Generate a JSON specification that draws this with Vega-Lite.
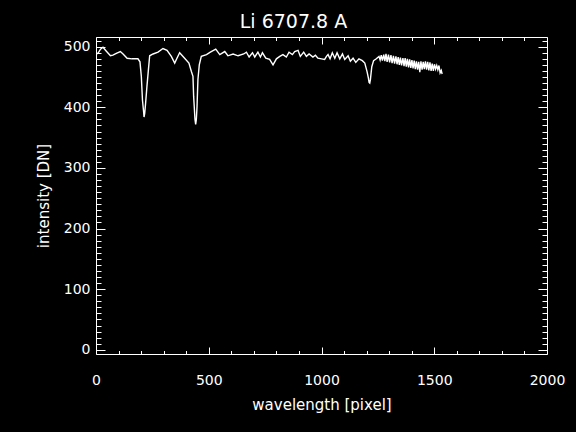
{
  "$schema": "https://vega.github.io/schema/vega-lite/v6.json",
  "width": 451,
  "height": 317,
  "autosize": "none",
  "padding": {"left": 96, "top": 37, "right": 29, "bottom": 78},
  "background": "black",
  "title": {"text": "Li 6707.8 A", "fontSize": 19, "color": "white", "font": "DejaVu Sans", "fontWeight": "normal", "anchor": "middle", "frame": "group", "dx": -28, "baseline": "alphabetic", "offset": -10},
  "config": {
    "view": {"stroke": "white", "strokeWidth": 1},
    "axis": {"grid": false, "domain": false, "tickColor": "white", "tickWidth": 1, "labelColor": "white", "titleColor": "white", "labelFont": "DejaVu Sans", "titleFont": "DejaVu Sans", "labelFontSize": 14, "titleFontSize": 15, "titleFontWeight": "normal", "labelFlush": false, "labelOverlap": false, "labelBound": false}
  },
  "data": {"values": [
    {"x": 0, "y": 487}, {"x": 10, "y": 490}, {"x": 20, "y": 496}, {"x": 31, "y": 499}, {"x": 45, "y": 493}, {"x": 64, "y": 485}, {"x": 75, "y": 486}, {"x": 90, "y": 489}, {"x": 108, "y": 492}, {"x": 120, "y": 488}, {"x": 138, "y": 481}, {"x": 160, "y": 480}, {"x": 186, "y": 480}, {"x": 195, "y": 475}, {"x": 201, "y": 451}, {"x": 206, "y": 412}, {"x": 211, "y": 393}, {"x": 213, "y": 384}, {"x": 216, "y": 390}, {"x": 220, "y": 407}, {"x": 226, "y": 435}, {"x": 231, "y": 456}, {"x": 238, "y": 485}, {"x": 253, "y": 488}, {"x": 275, "y": 491}, {"x": 297, "y": 497}, {"x": 315, "y": 494}, {"x": 334, "y": 484}, {"x": 349, "y": 473}, {"x": 359, "y": 481}, {"x": 371, "y": 490}, {"x": 393, "y": 481}, {"x": 412, "y": 473}, {"x": 423, "y": 459}, {"x": 430, "y": 451}, {"x": 433, "y": 418}, {"x": 439, "y": 380}, {"x": 442, "y": 372}, {"x": 445, "y": 380}, {"x": 448, "y": 401}, {"x": 452, "y": 446}, {"x": 458, "y": 470}, {"x": 467, "y": 484}, {"x": 490, "y": 487}, {"x": 507, "y": 491}, {"x": 531, "y": 496}, {"x": 549, "y": 487}, {"x": 571, "y": 492}, {"x": 585, "y": 485}, {"x": 608, "y": 488}, {"x": 630, "y": 485}, {"x": 655, "y": 488}, {"x": 667, "y": 491}, {"x": 679, "y": 483}, {"x": 694, "y": 490}, {"x": 704, "y": 483}, {"x": 718, "y": 491}, {"x": 729, "y": 483}, {"x": 738, "y": 490}, {"x": 753, "y": 481}, {"x": 770, "y": 479}, {"x": 785, "y": 470}, {"x": 800, "y": 480}, {"x": 815, "y": 484}, {"x": 829, "y": 487}, {"x": 844, "y": 483}, {"x": 856, "y": 491}, {"x": 871, "y": 487}, {"x": 881, "y": 492}, {"x": 896, "y": 494}, {"x": 906, "y": 484}, {"x": 921, "y": 491}, {"x": 933, "y": 484}, {"x": 945, "y": 488}, {"x": 962, "y": 483}, {"x": 973, "y": 486}, {"x": 984, "y": 481}, {"x": 1000, "y": 480}, {"x": 1014, "y": 479}, {"x": 1022, "y": 484}, {"x": 1029, "y": 487}, {"x": 1038, "y": 480}, {"x": 1048, "y": 490}, {"x": 1059, "y": 481}, {"x": 1069, "y": 490}, {"x": 1081, "y": 480}, {"x": 1093, "y": 488}, {"x": 1103, "y": 479}, {"x": 1118, "y": 485}, {"x": 1128, "y": 476}, {"x": 1140, "y": 481}, {"x": 1152, "y": 474}, {"x": 1166, "y": 480}, {"x": 1181, "y": 477}, {"x": 1192, "y": 473}, {"x": 1202, "y": 459}, {"x": 1208, "y": 448}, {"x": 1211, "y": 441}, {"x": 1214, "y": 440}, {"x": 1217, "y": 446}, {"x": 1223, "y": 467}, {"x": 1231, "y": 477}, {"x": 1243, "y": 480}, {"x": 1255, "y": 484},
    {"x": 1260, "y": 478}, {"x": 1265, "y": 486}, {"x": 1270, "y": 477}, {"x": 1276, "y": 487}, {"x": 1281, "y": 476}, {"x": 1286, "y": 488}, {"x": 1291, "y": 475}, {"x": 1297, "y": 487}, {"x": 1302, "y": 474}, {"x": 1308, "y": 486}, {"x": 1313, "y": 473}, {"x": 1319, "y": 485}, {"x": 1324, "y": 472}, {"x": 1330, "y": 484}, {"x": 1335, "y": 471}, {"x": 1340, "y": 483}, {"x": 1345, "y": 470}, {"x": 1350, "y": 482}, {"x": 1355, "y": 469}, {"x": 1361, "y": 481}, {"x": 1366, "y": 468}, {"x": 1371, "y": 481}, {"x": 1376, "y": 467}, {"x": 1381, "y": 480}, {"x": 1386, "y": 466}, {"x": 1391, "y": 479}, {"x": 1396, "y": 465}, {"x": 1401, "y": 478}, {"x": 1406, "y": 464}, {"x": 1411, "y": 477}, {"x": 1416, "y": 463}, {"x": 1421, "y": 476}, {"x": 1426, "y": 462}, {"x": 1431, "y": 475}, {"x": 1436, "y": 458}, {"x": 1441, "y": 476}, {"x": 1446, "y": 462}, {"x": 1451, "y": 475}, {"x": 1456, "y": 463}, {"x": 1461, "y": 476}, {"x": 1466, "y": 462}, {"x": 1471, "y": 475}, {"x": 1476, "y": 461}, {"x": 1481, "y": 474}, {"x": 1486, "y": 460}, {"x": 1491, "y": 472}, {"x": 1496, "y": 460}, {"x": 1501, "y": 471}, {"x": 1506, "y": 463}, {"x": 1511, "y": 469}, {"x": 1516, "y": 462}, {"x": 1521, "y": 469}, {"x": 1526, "y": 457}, {"x": 1531, "y": 461}, {"x": 1535, "y": 455}
  ]},
  "layer": [
    {
      "mark": {"type": "line", "color": "white", "strokeWidth": 1.4, "clip": true},
      "encoding": {
        "x": {"field": "x", "type": "quantitative", "scale": {"domain": [0, 2000], "nice": false, "zero": false},
              "axis": {"orient": "bottom", "values": [0, 500, 1000, 1500, 2000], "format": "d", "tickSize": -7, "labelPadding": 26, "title": "wavelength [pixel]", "titlePadding": 10}},
        "y": {"field": "y", "type": "quantitative", "scale": {"domain": [-7, 516], "nice": false, "zero": false},
              "axis": {"orient": "left", "values": [0, 100, 200, 300, 400, 500], "format": "d", "tickSize": -9, "labelPadding": 15, "title": "intensity [DN]", "titlePadding": 12}}
      }
    },
    {
      "mark": {"type": "line", "strokeOpacity": 0},
      "encoding": {
        "x": {"field": "x", "type": "quantitative", "scale": {"domain": [0, 2000], "nice": false, "zero": false},
              "axis": {"orient": "bottom", "values": [100, 200, 300, 400, 600, 700, 800, 900, 1100, 1200, 1300, 1400, 1600, 1700, 1800, 1900], "tickSize": -3.5, "labels": false, "title": null}},
        "y": {"field": "y", "type": "quantitative", "scale": {"domain": [-7, 516], "nice": false, "zero": false},
              "axis": {"orient": "left", "values": [10, 20, 30, 40, 50, 60, 70, 80, 90, 110, 120, 130, 140, 150, 160, 170, 180, 190, 210, 220, 230, 240, 250, 260, 270, 280, 290, 310, 320, 330, 340, 350, 360, 370, 380, 390, 410, 420, 430, 440, 450, 460, 470, 480, 490, 510], "tickSize": -5, "labels": false, "title": null}}
      }
    },
    {
      "mark": {"type": "line", "strokeOpacity": 0},
      "encoding": {
        "x": {"field": "x", "type": "quantitative", "scale": {"domain": [0, 2000], "nice": false, "zero": false},
              "axis": {"orient": "top", "values": [0, 500, 1000, 1500, 2000], "tickSize": -7, "labels": false, "title": null}},
        "y": {"field": "y", "type": "quantitative", "scale": {"domain": [-7, 516], "nice": false, "zero": false},
              "axis": {"orient": "right", "values": [0, 100, 200, 300, 400, 500], "tickSize": -9, "labels": false, "title": null}}
      }
    },
    {
      "mark": {"type": "line", "strokeOpacity": 0},
      "encoding": {
        "x": {"field": "x", "type": "quantitative", "scale": {"domain": [0, 2000], "nice": false, "zero": false},
              "axis": {"orient": "top", "values": [100, 200, 300, 400, 600, 700, 800, 900, 1100, 1200, 1300, 1400, 1600, 1700, 1800, 1900], "tickSize": -3.5, "labels": false, "title": null}},
        "y": {"field": "y", "type": "quantitative", "scale": {"domain": [-7, 516], "nice": false, "zero": false},
              "axis": {"orient": "right", "values": [10, 20, 30, 40, 50, 60, 70, 80, 90, 110, 120, 130, 140, 150, 160, 170, 180, 190, 210, 220, 230, 240, 250, 260, 270, 280, 290, 310, 320, 330, 340, 350, 360, 370, 380, 390, 410, 420, 430, 440, 450, 460, 470, 480, 490, 510], "tickSize": -5, "labels": false, "title": null}}
      }
    }
  ],
  "resolve": {"axis": {"x": "independent", "y": "independent"}}
}
